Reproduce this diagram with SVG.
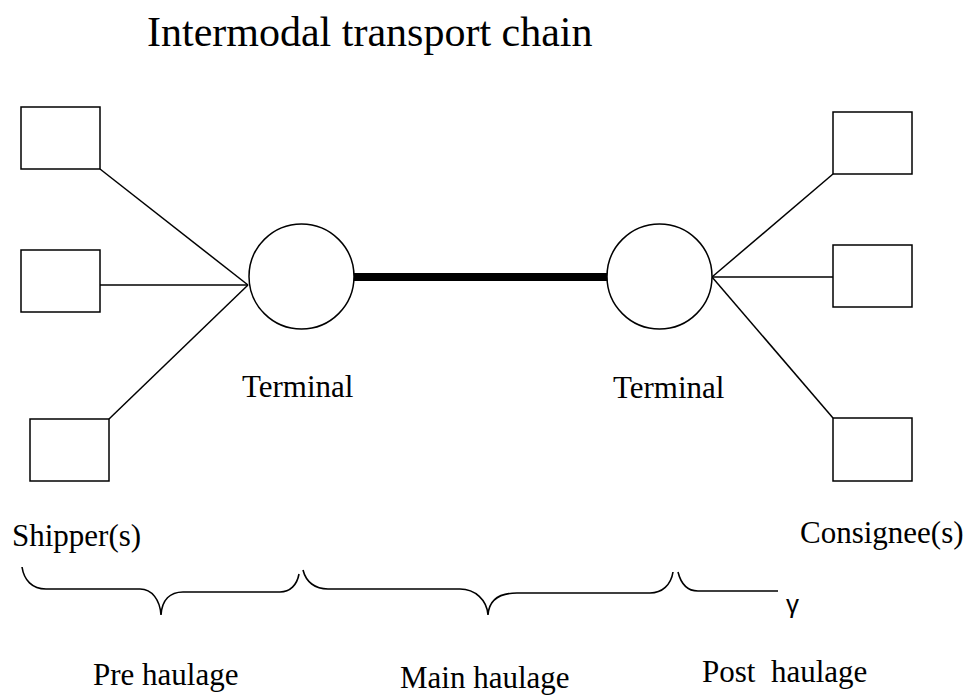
<svg xmlns="http://www.w3.org/2000/svg" width="970" height="695" viewBox="0 0 970 695">
  <style>
    .box { fill: #fff; stroke: #000; stroke-width: 1.5; }
    .term { fill: #fff; stroke: #000; stroke-width: 1.5; }
    .link { stroke: #000; stroke-width: 1.5; fill: none; }
    .main { stroke: #000; stroke-width: 8; fill: none; }
    .brace { stroke: #000; stroke-width: 1.6; fill: none; }
    text { font-family: "Liberation Serif", "Times New Roman", serif; fill: #000; }
    .lbl { font-size: 31px; }
  </style>
  <rect width="970" height="695" fill="#fff"/>

  <text id="title" x="147" y="46" font-size="42">Intermodal transport chain</text>

  <!-- connectors -->
  <g id="connectors">
    <line class="link" x1="100" y1="169" x2="248" y2="285"/>
    <line class="link" x1="100" y1="285" x2="248" y2="285"/>
    <line class="link" x1="109" y1="419" x2="248" y2="285"/>
    <line class="main" x1="352" y1="277" x2="608" y2="277"/>
    <line class="link" x1="712" y1="277" x2="833" y2="174"/>
    <line class="link" x1="712" y1="277" x2="833" y2="277"/>
    <line class="link" x1="712" y1="277" x2="833" y2="418"/>
  </g>

  <!-- shippers -->
  <g id="shipper1"><rect class="box" x="21" y="107" width="79" height="62"/></g>
  <g id="shipper2"><rect class="box" x="21" y="250" width="79" height="62"/></g>
  <g id="shipper3"><rect class="box" x="30" y="419" width="79" height="62"/></g>

  <!-- terminals -->
  <g id="terminal-left">
    <circle class="term" cx="301.5" cy="276.5" r="52.5"/>
    <text class="lbl" x="242" y="397">Terminal</text>
  </g>
  <g id="terminal-right">
    <circle class="term" cx="659.5" cy="276.5" r="52.5"/>
    <text class="lbl" x="613" y="398">Terminal</text>
  </g>

  <!-- consignees -->
  <g id="consignee1"><rect class="box" x="833" y="112" width="79" height="62"/></g>
  <g id="consignee2"><rect class="box" x="833" y="245" width="79" height="62"/></g>
  <g id="consignee3"><rect class="box" x="833" y="418" width="79" height="63"/></g>

  <text class="lbl" x="12" y="546">Shipper(s)</text>
  <text class="lbl" x="800" y="543">Consignee(s)</text>

  <!-- stage braces -->
  <g id="braces">
    <path class="brace" d="M22,567 C24,580 32,589 46,589 L140,589 C152,589 160,600 161,615 C162,600 170,592 183,592 L280,592 C290,592 297,585 299,574"/>
    <path class="brace" d="M303,570 C306,582 315,589 328,589 L460,589 C475,589 487,600 488,615 C489,600 500,593 517,593 L650,593 C662,593 671,585 673,572"/>
    <path class="brace" d="M678,572 C681,584 688,591 698,591 L778,591"/>
    <text x="786" y="613" font-size="26" style="font-family:'Liberation Sans',Arial,sans-serif">γ</text>
  </g>

  <text class="lbl" x="93" y="685">Pre haulage</text>
  <text class="lbl" x="400" y="688">Main haulage</text>
  <text class="lbl" x="702" y="682" xml:space="preserve">Post  haulage</text>
</svg>
